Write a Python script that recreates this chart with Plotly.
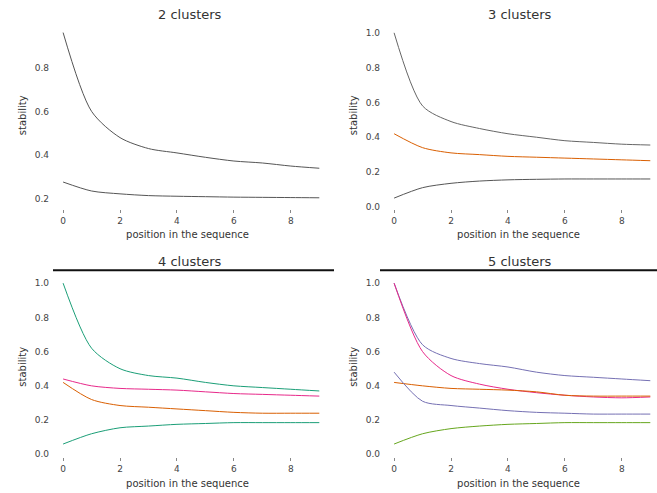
import plotly.graph_objects as go
from plotly.subplots import make_subplots

W, H = 657, 493

positions = list(range(10))
x_ticks = [0, 2, 4, 6, 8]

panel_titles = ["2 clusters", "3 clusters", "4 clusters", "5 clusters"]

# stability per cluster, per position in the sequence
k2_c1 = [0.96, 0.60, 0.48, 0.43, 0.41, 0.39, 0.373, 0.364, 0.35, 0.34]
k2_c2 = [0.277, 0.236, 0.223, 0.215, 0.212, 0.21, 0.208, 0.207, 0.206, 0.205]

k3_c1 = [1.0, 0.58, 0.49, 0.45, 0.42, 0.40, 0.38, 0.37, 0.36, 0.355]
k3_c2 = [0.42, 0.34, 0.31, 0.30, 0.29, 0.285, 0.28, 0.275, 0.27, 0.265]
k3_c3 = [0.05, 0.11, 0.135, 0.148, 0.155, 0.158, 0.16, 0.16, 0.16, 0.16]

k4_c1 = [1.0, 0.62, 0.50, 0.46, 0.445, 0.42, 0.40, 0.39, 0.38, 0.37]
k4_c2 = [0.44, 0.40, 0.385, 0.38, 0.375, 0.365, 0.355, 0.35, 0.345, 0.34]
k4_c3 = [0.42, 0.32, 0.285, 0.275, 0.265, 0.255, 0.245, 0.24, 0.24, 0.24]
k4_c4 = [0.06, 0.12, 0.155, 0.165, 0.175, 0.18, 0.185, 0.185, 0.185, 0.185]

k5_c1 = [1.0, 0.64, 0.56, 0.53, 0.51, 0.48, 0.46, 0.45, 0.44, 0.43]
k5_c2 = [1.0, 0.60, 0.46, 0.41, 0.38, 0.36, 0.345, 0.335, 0.33, 0.335]
k5_c3 = [0.42, 0.40, 0.385, 0.38, 0.375, 0.365, 0.345, 0.34, 0.34, 0.34]
k5_c4 = [0.48, 0.31, 0.285, 0.27, 0.255, 0.245, 0.24, 0.235, 0.235, 0.235]
k5_c5 = [0.06, 0.12, 0.15, 0.165, 0.175, 0.18, 0.185, 0.185, 0.185, 0.185]

panels = [
    ([k2_c1, k2_c2], ["#555555", "#555555"]),
    ([k3_c1, k3_c2, k3_c3], ["#666666", "#d95f02", "#555555"]),
    ([k4_c1, k4_c2, k4_c3, k4_c4], ["#1b9e77", "#e7298a", "#d95f02", "#1b9e77"]),
    ([k5_c1, k5_c2, k5_c3, k5_c4, k5_c5], ["#7570b3", "#e7298a", "#d95f02", "#7570b3", "#66a61e"]),
]

fig = make_subplots(rows=2, cols=2)

cells = [(1, 1), (1, 2), (2, 1), (2, 2)]
for (series, colors), (r, c) in zip(panels, cells):
    for i, (ys, col) in enumerate(zip(series, colors)):
        fig.add_trace(go.Scatter(x=positions, y=ys, mode="lines",
                                 line=dict(color=col, width=1, shape="spline", smoothing=0.8),
                                 name=f"cluster {i+1}", showlegend=False),
                      row=r, col=c)

def px_x(a, b):
    return [a / W, b / W]

def px_y(top, bottom):
    return [1 - bottom / H, 1 - top / H]

xdoms = [px_x(50, 325), px_x(381, 656), px_x(50, 325), px_x(381, 656)]
ydoms = [px_y(22, 210), px_y(22, 210), px_y(278, 460), px_y(278, 460)]
yranges = [[0.155, 1.009], [-0.011, 1.063], [-0.017, 1.04], [-0.017, 1.04]]
yticks = [[0.2, 0.4, 0.6, 0.8], [0, 0.2, 0.4, 0.6, 0.8, 1.0],
          [0, 0.2, 0.4, 0.6, 0.8, 1.0], [0, 0.2, 0.4, 0.6, 0.8, 1.0]]

tickfont = dict(family="DejaVu Sans", size=9, color="#444444")
titlefont = dict(family="DejaVu Sans", size=10, color="#333333")

for i in range(4):
    xa = "xaxis" if i == 0 else f"xaxis{i+1}"
    ya = "yaxis" if i == 0 else f"yaxis{i+1}"
    fig.layout[xa].update(domain=xdoms[i], range=[-0.46, 9.2], tickvals=x_ticks,
                          showgrid=False, zeroline=False, showline=False,
                          ticks="outside", ticklen=3, tickcolor="#888888",
                          tickfont=tickfont,
                          title=dict(text="position in the sequence", font=titlefont, standoff=6))
    fig.layout[ya].update(domain=ydoms[i], range=yranges[i], tickvals=yticks[i],
                          tickformat=".1f", showgrid=False, zeroline=False, showline=False,
                          ticks="", tickfont=tickfont,
                          title=dict(text="stability", font=titlefont, standoff=6))

title_pos = [(190, 15), (520, 15), (190, 263), (520, 263)]
for t, (x, y) in zip(panel_titles, title_pos):
    fig.add_annotation(text=t, x=x / W, y=1 - y / H, xref="paper", yref="paper",
                       showarrow=False, xanchor="center", yanchor="middle",
                       font=dict(family="DejaVu Sans", size=13, color="#333333"))

# separator lines above lower panels
fig.add_shape(type="line", xref="paper", yref="paper", x0=53 / W, x1=334 / W,
              y0=1 - 272 / H, y1=1 - 272 / H, line=dict(color="#111111", width=2))
fig.add_shape(type="line", xref="paper", yref="paper", x0=380 / W, x1=657 / W,
              y0=1 - 272 / H, y1=1 - 272 / H, line=dict(color="#111111", width=2))

fig.update_layout(width=W, height=H, margin=dict(l=0, r=0, t=0, b=0),
                  paper_bgcolor="white", plot_bgcolor="white")

fig.write_html("out.html")
